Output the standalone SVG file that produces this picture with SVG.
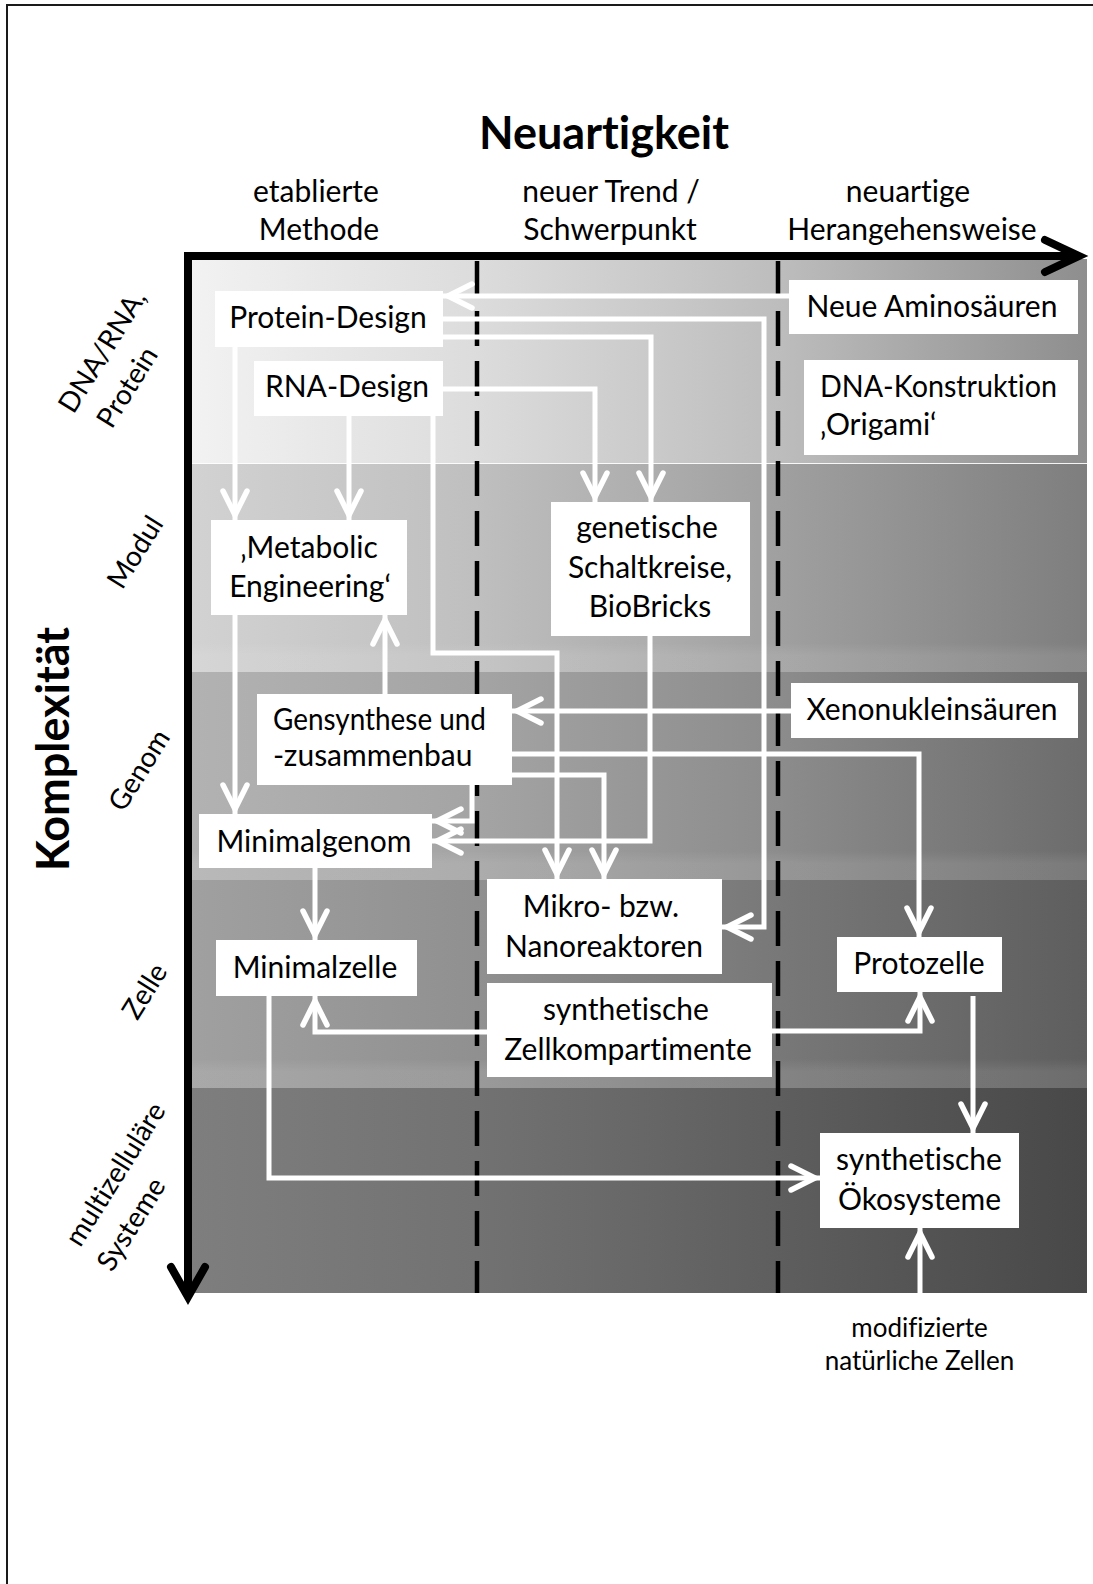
<svg xmlns="http://www.w3.org/2000/svg" width="1093" height="1584" viewBox="0 0 1093 1584">
  <style>
    text { font-variant-ligatures: none; font-feature-settings: "liga" 0, "clig" 0; }
    .t { font-family: Lato, "Liberation Sans", sans-serif; font-size: 30px; fill: #000; }
    .c { text-anchor: middle; }
    .h { font-family: Lato, "Liberation Sans", sans-serif; font-size: 45px; font-weight: bold; fill: #000; text-anchor: middle; }
    .lab { font-family: Lato, "Liberation Sans", sans-serif; font-size: 28px; fill: #000; text-anchor: middle; }
    .small { font-family: Lato, "Liberation Sans", sans-serif; font-size: 26px; fill: #000; text-anchor: middle; }
    .box { fill: #fff; }
    .conn { fill: none; stroke: #fff; stroke-width: 5; stroke-linejoin: miter; marker-end: url(#arr); }
    .axis { fill: none; stroke: #000; stroke-width: 8; }
    .dash { fill: none; stroke: #000; stroke-width: 4.5; stroke-dasharray: 35 15; }
  </style>
  <defs>
    <marker id="arr" markerUnits="userSpaceOnUse" markerWidth="60" markerHeight="60" viewBox="-40 -30 60 60" refX="0" refY="0" orient="auto">
      <path d="M-29,-12 L-5,0 L-29,12" fill="none" stroke="#fff" stroke-width="5.5" stroke-linejoin="miter" stroke-linecap="round"/>
    </marker>
    <linearGradient id="g1"><stop offset="0" stop-color="#f2f2f2"/><stop offset="0.318" stop-color="#dcdcdc"/><stop offset="0.655" stop-color="#bdbdbd"/><stop offset="1" stop-color="#8e8e8e"/></linearGradient>
    <linearGradient id="g2"><stop offset="0" stop-color="#d2d2d2"/><stop offset="0.318" stop-color="#bfbfbf"/><stop offset="0.655" stop-color="#a0a0a0"/><stop offset="1" stop-color="#7e7e7e"/></linearGradient>
    <linearGradient id="g3"><stop offset="0" stop-color="#b2b2b2"/><stop offset="0.318" stop-color="#a4a4a4"/><stop offset="0.655" stop-color="#8c8c8c"/><stop offset="1" stop-color="#6c6c6c"/></linearGradient>
    <linearGradient id="g4"><stop offset="0" stop-color="#a0a0a0"/><stop offset="0.318" stop-color="#909090"/><stop offset="0.655" stop-color="#787878"/><stop offset="1" stop-color="#5e5e5e"/></linearGradient>
    <linearGradient id="g5"><stop offset="0" stop-color="#7e7e7e"/><stop offset="0.318" stop-color="#727272"/><stop offset="0.655" stop-color="#5e5e5e"/><stop offset="1" stop-color="#484848"/></linearGradient>
    <linearGradient id="sheen" x1="0" y1="0" x2="0" y2="1">
      <stop offset="0.86" stop-color="#fff" stop-opacity="0"/>
      <stop offset="0.92" stop-color="#fff" stop-opacity="0.09"/>
      <stop offset="1" stop-color="#fff" stop-opacity="0.09"/>
    </linearGradient>
  </defs>

  <!-- outer frame -->
  <path d="M7,1584 V5 H1093" fill="none" stroke="#1a1a1a" stroke-width="2"/>

  <!-- complexity bands -->
  <g id="bands">
    <rect x="192" y="259" width="895" height="205" fill="url(#g1)"/>
    <rect x="192" y="464" width="895" height="208" fill="url(#g2)"/>
    <rect x="192" y="464" width="895" height="208" fill="url(#sheen)"/>
    <rect x="192" y="672" width="895" height="208" fill="url(#g3)"/>
    <rect x="192" y="672" width="895" height="208" fill="url(#sheen)"/>
    <rect x="192" y="880" width="895" height="208" fill="url(#g4)"/>
    <rect x="192" y="880" width="895" height="208" fill="url(#sheen)"/>
    <rect x="192" y="1088" width="895" height="205" fill="url(#g5)"/>
    <line x1="192" y1="463.5" x2="1087" y2="463.5" stroke="#fff" stroke-width="1" opacity="0.9"/>
  </g>

  <!-- column separators -->
  <g id="columns">
    <line class="dash" x1="477" y1="261" x2="477" y2="1293"/>
    <line class="dash" x1="778" y1="261" x2="778" y2="1293"/>
  </g>

  <!-- axes -->
  <g id="axes">
    <path class="axis" d="M184,256 H1080"/>
    <polyline class="axis" points="1045,240 1079,256 1045,272" stroke-linecap="round"/>
    <path class="axis" d="M188,252 V1296"/>
    <polyline class="axis" points="171,1267 188,1297 205,1267" stroke-linecap="round"/>
  </g>

  <!-- axis titles and category labels -->
  <g id="titles">
    <text class="h" x="604" y="149">Neuartigkeit</text>
    <text class="h" transform="translate(69,749) rotate(-90)">Komplexität</text>
    <text class="t c" x="316" y="202">etablierte</text>
    <text class="t c" x="319" y="240">Methode</text>
    <text class="t c" x="611" y="202">neuer Trend /</text>
    <text class="t c" x="610" y="240">Schwerpunkt</text>
    <text class="t c" x="908" y="202">neuartige</text>
    <text class="t c" x="912" y="240">Herangehensweise</text>
  </g>
  <g id="levels">
    <text class="lab" dy="0.35em" transform="translate(102,351) rotate(-58)">DNA/RNA,</text>
    <text class="lab" dy="0.35em" transform="translate(127,387) rotate(-58)">Protein</text>
    <text class="lab" dy="0.35em" transform="translate(135,552) rotate(-58)">Modul</text>
    <text class="lab" dy="0.35em" transform="translate(139,770) rotate(-58)">Genom</text>
    <text class="lab" dy="0.35em" transform="translate(144.5,991) rotate(-58)">Zelle</text>
    <text class="lab" dy="0.35em" transform="translate(115,1174) rotate(-58)">multizelluläre</text>
    <text class="lab" dy="0.35em" transform="translate(131,1224) rotate(-58)">Systeme</text>
  </g>

  <!-- connectors -->
  <g id="connectors">
    <path class="conn" d="M789,296 H443"/>
    <path class="conn" d="M443,319 H764 V927 H722"/>
    <path class="conn" d="M443,337 H651 V502"/>
    <path class="conn" d="M443,389 H595 V502"/>
    <path class="conn" d="M433,416 V653 H557 V879"/>
    <path class="conn" d="M349,416 V520"/>
    <path class="conn" d="M235,347 V520"/>
    <path class="conn" d="M235,615 V814"/>
    <path class="conn" d="M385,694 V615"/>
    <path class="conn" d="M791,711 H512"/>
    <path class="conn" d="M512,754 H919 V937"/>
    <path class="conn" d="M512,775 H604 V879"/>
    <path class="conn" d="M472,785 V821 H432"/>
    <path class="conn" d="M650,636 V841 H432"/>
    <path class="conn" d="M315,868 V940"/>
    <path class="conn" d="M487,1032 H315 V996"/>
    <path class="conn" d="M772,1031 H920 V992"/>
    <path class="conn" d="M973,996 V1133"/>
    <path class="conn" d="M269,996 V1178 H820"/>
    <path class="conn" d="M920,1293 V1228"/>
  </g>

  <!-- nodes -->
  <g id="protein-design">
    <rect class="box" x="215" y="291" width="228" height="56"/>
    <text class="t c" x="328" y="328">Protein-Design</text>
  </g>
  <g id="rna-design">
    <rect class="box" x="254" y="361" width="189" height="55"/>
    <text class="t c" x="347" y="397">RNA-Design</text>
  </g>
  <g id="neue-aminosaeuren">
    <rect class="box" x="789" y="280" width="289" height="54"/>
    <text class="t c" x="932" y="317">Neue Aminosäuren</text>
  </g>
  <g id="dna-origami">
    <rect class="box" x="804" y="360" width="274" height="95"/>
    <text class="t" x="820" y="397" textLength="237" lengthAdjust="spacingAndGlyphs">DNA-Konstruktion</text>
    <text class="t" x="820" y="435">‚Origami‘</text>
  </g>
  <g id="metabolic-engineering">
    <rect class="box" x="211" y="520" width="196" height="95"/>
    <text class="t c" x="309" y="558">‚Metabolic</text>
    <text class="t c" x="310" y="597">Engineering‘</text>
  </g>
  <g id="genetische-schaltkreise">
    <rect class="box" x="551" y="502" width="199" height="134"/>
    <text class="t c" x="647" y="538">genetische</text>
    <text class="t c" x="650" y="578">Schaltkreise,</text>
    <text class="t c" x="650" y="617">BioBricks</text>
  </g>
  <g id="gensynthese">
    <rect class="box" x="257" y="694" width="255" height="91"/>
    <text class="t" x="273" y="730" textLength="213" lengthAdjust="spacingAndGlyphs">Gensynthese und</text>
    <text class="t" x="273" y="766">-zusammenbau</text>
  </g>
  <g id="xenonukleinsaeuren">
    <rect class="box" x="791" y="683" width="287" height="55"/>
    <text class="t c" x="932" y="720">Xenonukleinsäuren</text>
  </g>
  <g id="minimalgenom">
    <rect class="box" x="199" y="814" width="233" height="54"/>
    <text class="t c" x="314" y="852">Minimalgenom</text>
  </g>
  <g id="nanoreaktoren">
    <rect class="box" x="487" y="879" width="235" height="95"/>
    <text class="t c" x="601" y="917">Mikro- bzw.</text>
    <text class="t c" x="604" y="957">Nanoreaktoren</text>
  </g>
  <g id="minimalzelle">
    <rect class="box" x="216" y="940" width="201" height="56"/>
    <text class="t c" x="315" y="978">Minimalzelle</text>
  </g>
  <g id="zellkompartimente">
    <rect class="box" x="487" y="983" width="285" height="94"/>
    <text class="t c" x="626" y="1020">synthetische</text>
    <text class="t c" x="628" y="1060">Zellkompartimente</text>
  </g>
  <g id="protozelle">
    <rect class="box" x="837" y="937" width="165" height="55"/>
    <text class="t c" x="919" y="974">Protozelle</text>
  </g>
  <g id="oekosysteme">
    <rect class="box" x="820" y="1133" width="199" height="95"/>
    <text class="t c" x="919" y="1170">synthetische</text>
    <text class="t c" x="919.5" y="1210">Ökosysteme</text>
  </g>
  <g id="natuerliche-zellen">
    <text class="small" x="919.5" y="1337">modifizierte</text>
    <text class="small" x="919.5" y="1370">natürliche Zellen</text>
  </g>
</svg>
